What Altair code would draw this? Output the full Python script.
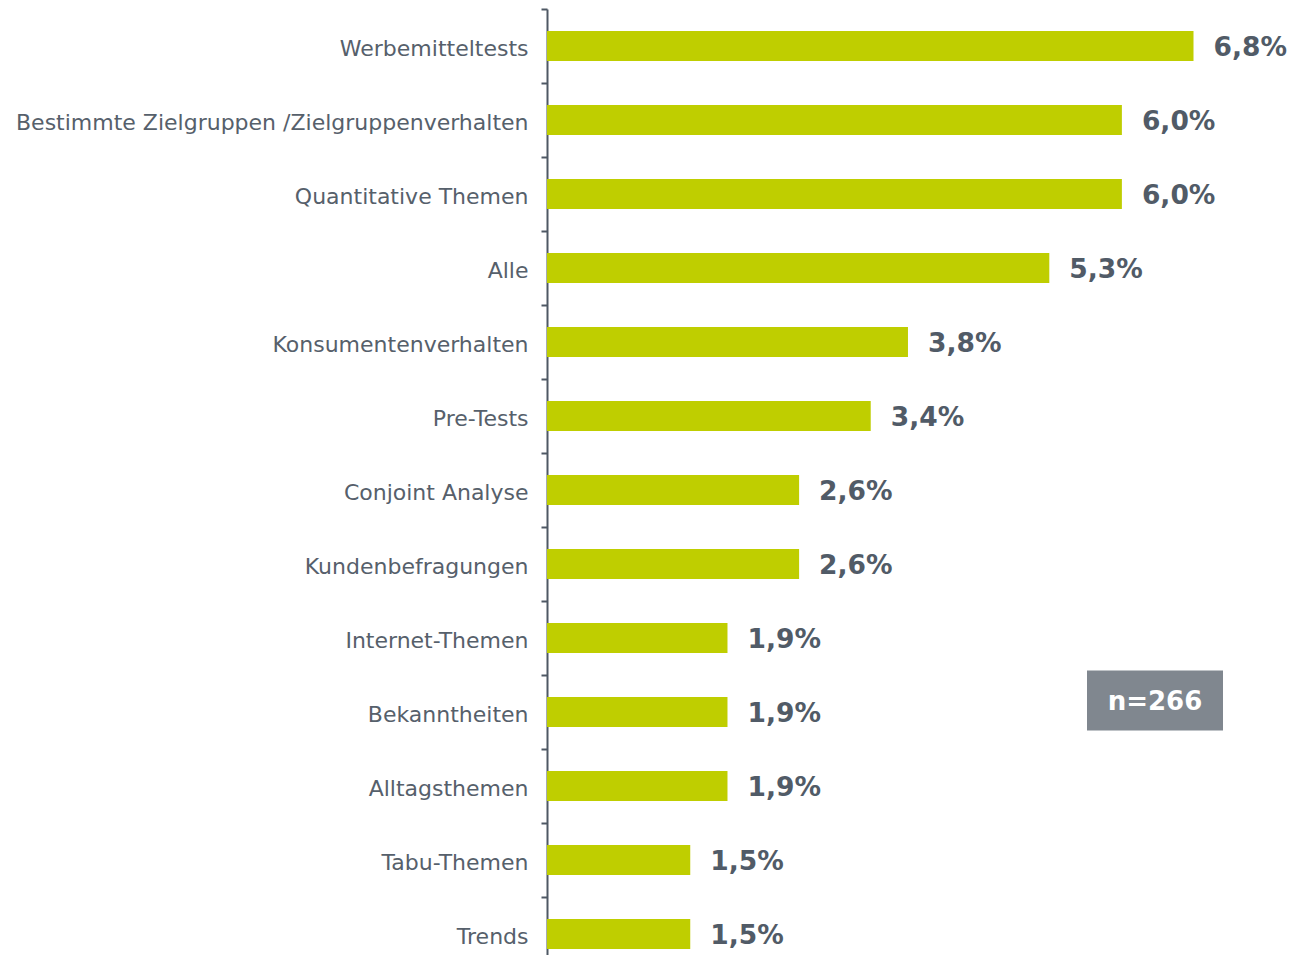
import altair as alt
import pandas as pd

categories = [
    "Werbemitteltests",
    "Bestimmte Zielgruppen /Zielgruppenverhalten",
    "Quantitative Themen",
    "Alle",
    "Konsumentenverhalten",
    "Pre-Tests",
    "Conjoint Analyse",
    "Kundenbefragungen",
    "Internet-Themen",
    "Bekanntheiten",
    "Alltagsthemen",
    "Tabu-Themen",
    "Trends",
]
values = [6.77, 6.02, 6.02, 5.26, 3.78, 3.39, 2.64, 2.64, 1.89, 1.89, 1.89, 1.50, 1.50]
value_labels = ["6,8%", "6,0%", "6,0%", "5,3%", "3,8%", "3,4%", "2,6%", "2,6%",
                "1,9%", "1,9%", "1,9%", "1,5%", "1,5%"]
sample_note = ["n=266"]

df = pd.DataFrame({"cat": categories, "val": values, "lab": value_labels})

BAR = "#bfce00"
TXT = "#56606b"
AX = "#4e5864"

y_enc = alt.Y(
    "cat:N",
    sort=categories,
    title=None,
    scale=alt.Scale(paddingInner=0, paddingOuter=0, range=[0, 962]),
    axis=alt.Axis(
        bandPosition=0,
        domainColor=AX,
        domainWidth=2,
        tickColor=AX,
        tickWidth=2,
        tickSize=6,
        labelPadding=13,
        labelOffset=3,
        labelFont="DejaVu Sans",
        labelFontSize=22,
        labelColor=TXT,
        labelLimit=600,
        grid=False,
    ),
)
x_enc = alt.X("val:Q", title=None, scale=alt.Scale(domain=[0, 7.77], nice=False), axis=None)

base = alt.Chart(df)
bars = base.mark_bar(color=BAR, height={"band": 0.405}).encode(y=y_enc, x=x_enc)
texts = base.mark_text(
    align="left", baseline="middle", dx=20, dy=2,
    font="DejaVu Sans", fontWeight="bold", fontSize=26.5, color="#515b67",
).encode(y=y_enc, x=x_enc, text="lab:N")

note_df = pd.DataFrame({"t": sample_note})
box = alt.Chart(note_df).mark_rect(color="#80878f").encode(
    x=alt.value(540), x2=alt.value(676), y=alt.value(661.5), y2=alt.value(721.5)
)
box_text = alt.Chart(note_df).mark_text(
    align="center", baseline="middle", font="DejaVu Sans", fontWeight="bold",
    fontSize=26, color="white",
).encode(x=alt.value(608), y=alt.value(693), text="t:N")

chart = alt.layer(bars, texts, box, box_text).properties(
    width=742,
    height=946,
    background="white",
    autosize=alt.AutoSizeParams(type="none"),
    padding={"left": 539, "top": 1, "right": 0, "bottom": 0},
).configure_view(stroke=None, strokeWidth=0)

chart.save("out.html", embed_options={"renderer": "svg", "actions": False})
